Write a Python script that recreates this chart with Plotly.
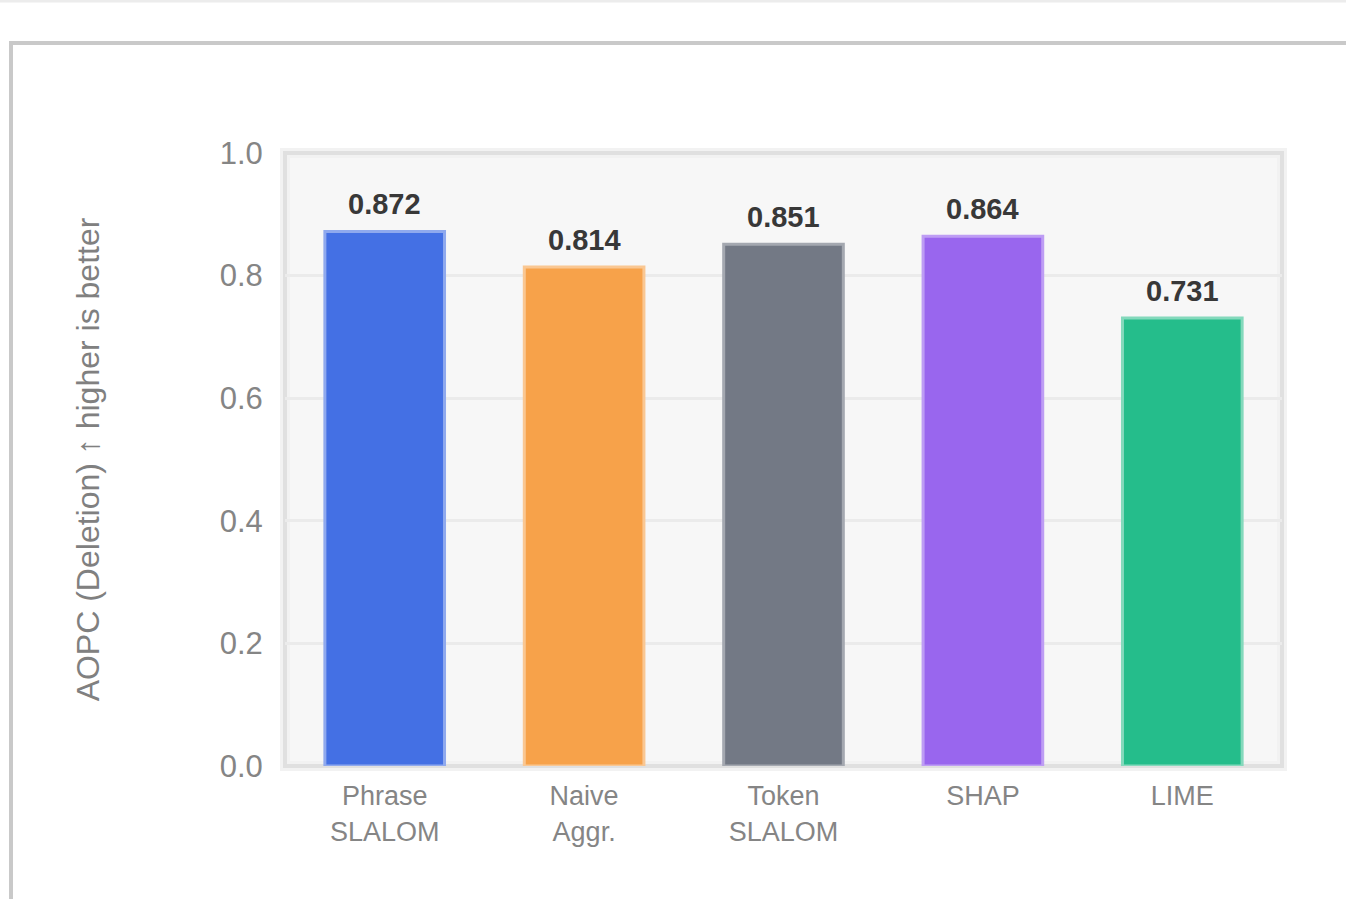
import plotly.graph_objects as go

# ---- data ----
categories = ["Phrase<br>SLALOM", "Naive<br>Aggr.", "Token<br>SLALOM", "SHAP", "LIME"]
values = [0.872, 0.814, 0.851, 0.864, 0.731]
value_labels = ["0.872", "0.814", "0.851", "0.864", "0.731"]
y_ticks = [0.0, 0.2, 0.4, 0.6, 0.8, 1.0]
y_tick_labels = ["0.0", "0.2", "0.4", "0.6", "0.8", "1.0"]
y_title = "AOPC (Deletion) ↑ higher is better"

# ---- styles ----
bar_colors = ["#4470E4", "#F7A24A", "#737985", "#9966EE", "#25BD8B"]
edge_colors = ["#8FA9EE", "#FAC792", "#A4A8B0", "#BE9DF4", "#84D9BC"]
FONT = "Liberation Sans, Arial, Helvetica, sans-serif"

W, H = 1346, 899
L, R, T, B = 285, 1282, 153, 766
pw, ph = R - L, B - T


def px_x(x):
    return (x - L) / pw


def px_y(y):
    return (B - y) / ph


fig = go.Figure()
fig.add_trace(go.Bar(
    x=categories,
    y=values,
    marker=dict(color=bar_colors, line=dict(color=edge_colors, width=3)),
    width=0.6,
    hoverinfo="x+y",
))

annotations = []
for c, v, lab in zip(categories, values, value_labels):
    annotations.append(dict(
        x=c, y=v, xref="x", yref="y", text="<b>%s</b>" % lab,
        showarrow=False, yanchor="bottom", yshift=9,
        font=dict(family=FONT, size=29, color="#383838"),
    ))

shapes = [
    # page top shadow
    dict(type="line", xref="paper", yref="paper", x0=px_x(-10), x1=px_x(1360),
         y0=px_y(1), y1=px_y(1), line=dict(color="#ececec", width=3), layer="below"),
    # card frame
    dict(type="rect", xref="paper", yref="paper", x0=px_x(11), x1=px_x(1370),
         y0=px_y(930), y1=px_y(43), line=dict(color="#c9c9c9", width=4), layer="below"),
    # plot area glow + border
    dict(type="rect", xref="paper", yref="paper", x0=0, x1=1, y0=0, y1=1,
         line=dict(color="#f2f2f2", width=10), layer="below"),
    dict(type="rect", xref="paper", yref="paper", x0=0, x1=1, y0=0, y1=1,
         line=dict(color="#e0e0e0", width=4), layer="below"),
]

fig.update_layout(
    width=W, height=H,
    margin=dict(l=L, r=W - R, t=T, b=H - B, pad=0),
    paper_bgcolor="#ffffff",
    plot_bgcolor="#f7f7f7",
    showlegend=False,
    bargap=0.4,
    annotations=annotations,
    shapes=shapes,
    font=dict(family=FONT, color="#808080"),
)

fig.update_xaxes(
    type="category",
    showgrid=False,
    showline=False,
    zeroline=False,
    ticks="outside", ticklen=6, tickcolor="rgba(0,0,0,0)",
    tickfont=dict(family=FONT, size=27, color="#858585"),
)

fig.update_yaxes(
    range=[0, 1.0],
    tickvals=y_ticks,
    ticktext=y_tick_labels,
    showgrid=True, gridcolor="#ebebeb", gridwidth=3,
    zeroline=False,
    showline=False,
    ticks="outside", ticklen=15, tickcolor="rgba(0,0,0,0)",
    tickfont=dict(family=FONT, size=31, color="#858585"),
    title=dict(text=y_title, standoff=110,
               font=dict(family=FONT, size=32, color="#808080")),
)

fig.write_html("out.html")
